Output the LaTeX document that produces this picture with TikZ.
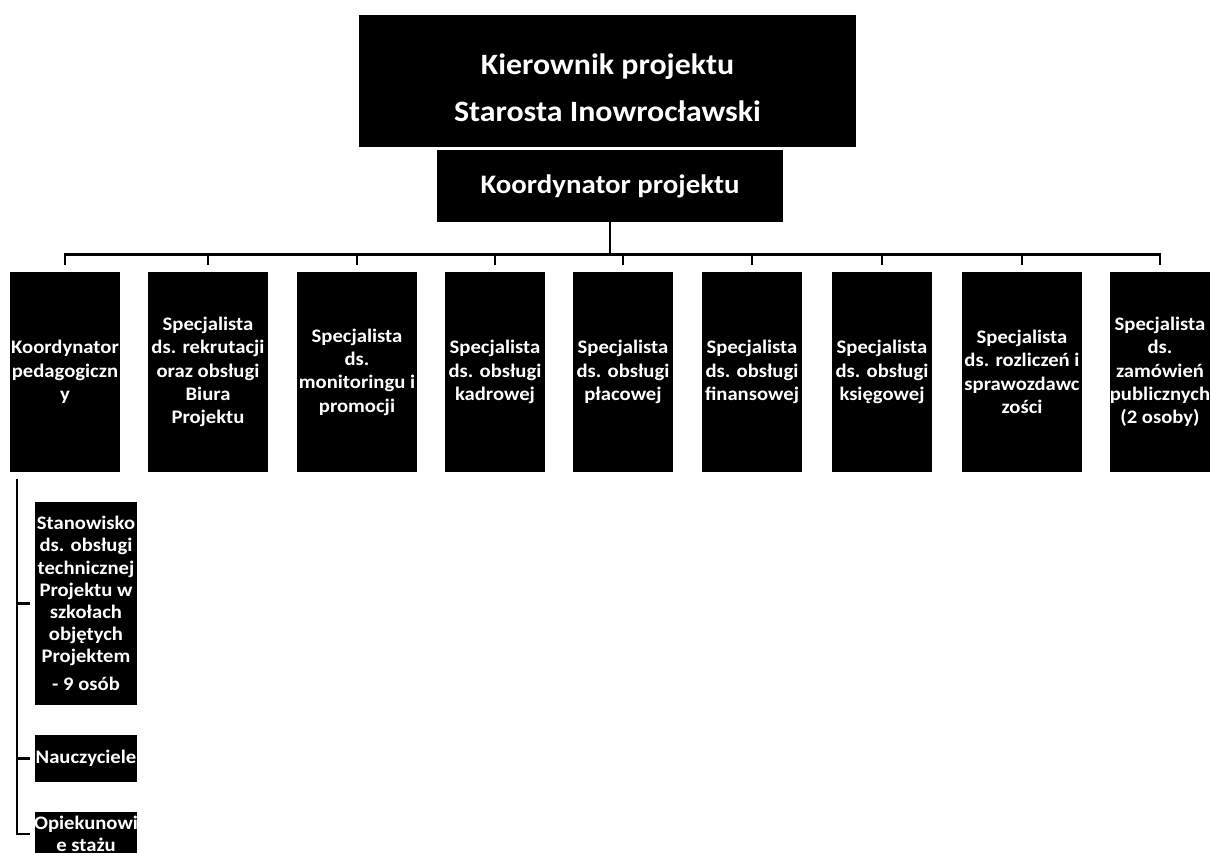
\documentclass[tikz,border=0pt]{standalone}
\usepackage{fontspec}
\setmainfont{Carlito}[FakeStretch=1.08]
\usetikzlibrary{positioning}

% text wider than its box is cut off at the box edges (white on white)
\newcommand{\boxtext}[1]{\makebox[0pt]{\parbox{4cm}{\centering #1}}}

\begin{document}
\begin{tikzpicture}[x=0.025cm, y=-0.025cm,
  unit/.style={fill=black, text=white, inner sep=0pt, minimum height=5cm,
    font=\fontsize{13.6}{16.6}\selectfont\bfseries},
  subunit/.style={fill=black, text=white, inner sep=0pt, minimum width=2.55cm,
    font=\fontsize{13.6}{15.8}\selectfont\bfseries},
  conn/.style={line width=2pt},
  drop/.style={conn, shorten >=1.75mm}]

\useasboundingbox (0,0) rectangle (1212,853);
\clip (0,0) rectangle (1212,853);

\node[fill=black, text=white, minimum width=12.425cm, minimum height=3.3cm,
  font=\fontsize{21}{33.4}\selectfont\bfseries] (kierownik) at (607.5,81)
  {\raisebox{-1.75mm}[\height][\depth]{\parbox{10cm}{\centering Kierownik projektu\\Starosta Inowrocławski}}};
\node[fill=black, text=white, minimum width=8.65cm, minimum height=1.8cm,
  font=\fontsize{19}{23}\selectfont\bfseries] (koordynator) at (610,186) {Koordynator projektu};

\node[unit, minimum width=2.75cm] (pedagog) at (65,372) {\boxtext{Koordynator\\pedagogiczn\\y}};
\node[unit, minimum width=3cm] (rekrutacja) at (208,372) {\boxtext{Specjalista\\ds. rekrutacji\\oraz obsługi\\Biura\\Projektu}};
\node[unit, minimum width=3cm] (monitoring) at (357,372) {\boxtext{Specjalista\\ds.\\monitoringu i\\promocji}};
\node[unit, minimum width=2.5cm] (kadry) at (495,372) {\boxtext{Specjalista\\ds. obsługi\\kadrowej}};
\node[unit, minimum width=2.5cm] (place) at (623,372) {\boxtext{Specjalista\\ds. obsługi\\płacowej}};
\node[unit, minimum width=2.5cm] (finanse) at (752,372) {\boxtext{Specjalista\\ds. obsługi\\finansowej}};
\node[unit, minimum width=2.5cm] (ksiegowosc) at (882,372) {\boxtext{Specjalista\\ds. obsługi\\księgowej}};
\node[unit, minimum width=3cm] (rozliczenia) at (1022,372) {\boxtext{Specjalista\\ds. rozliczeń i\\sprawozdawc\\zości}};
\node[unit, minimum width=2.5cm] (zamowienia) at (1160,372) {\boxtext{Specjalista\\ds.\\zamówień\\publicznych\\(2 osoby)}};

\node[subunit, minimum height=5.075cm] (stanowisko) at (86,603.5)
  {\boxtext{Stanowisko\\ds. obsługi\\technicznej\\Projektu w\\szkołach\\objętych\\Projektem\\[4pt]- 9 osób}};
\node[subunit, minimum height=1.175cm] (nauczyciele) at (86,758.5) {\boxtext{Nauczyciele}};
\node[subunit, minimum height=1.1cm] (opiekunowie) at (86,834) {\boxtext{Opiekunowi\\e stażu}};

\coordinate (bus) at ([shift={(0,32)}]koordynator.south);
\coordinate (trunk) at ([shift={(-48,7)}]pedagog.south);

\draw[conn] (koordynator.south) -- (bus);
\foreach \n in {pedagog, rekrutacja, monitoring, kadry, place, finanse, ksiegowosc, rozliczenia, zamowienia}
  \draw[drop] (bus) -| (\n.north);

\foreach \n in {stanowisko, nauczyciele, opiekunowie}
  \draw[conn, shorten >=1.25mm] (trunk) |- (\n.west);

\end{tikzpicture}
\end{document}
